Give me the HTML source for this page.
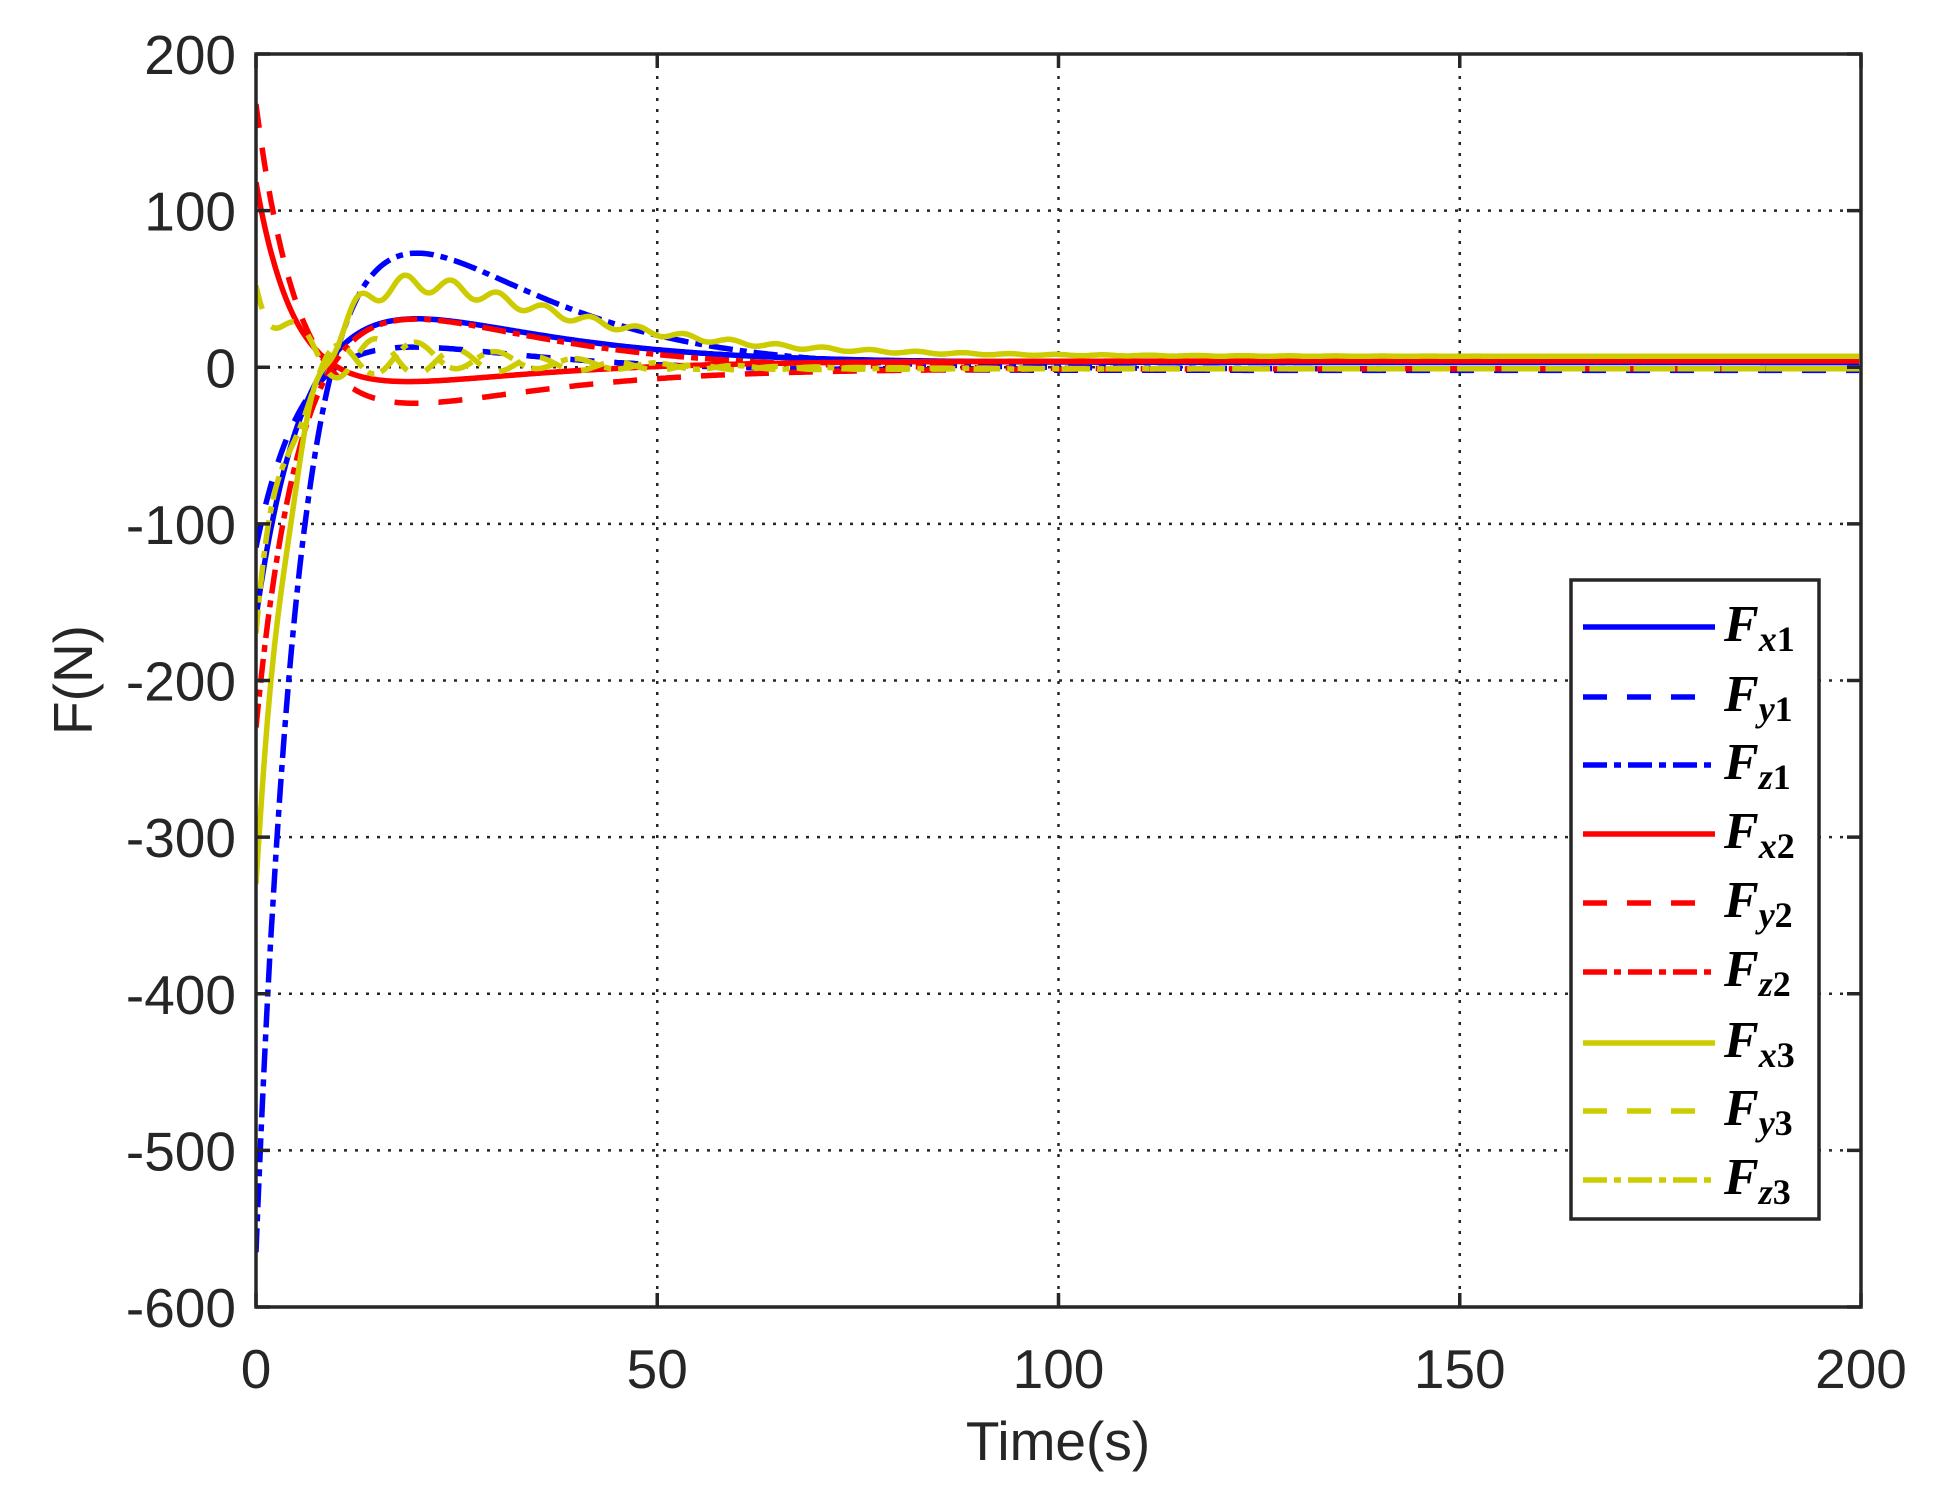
<!DOCTYPE html>
<html><head><meta charset="utf-8"><style>
html,body{margin:0;padding:0;background:#fff}
svg{display:block}
.tl{font-family:"Liberation Sans",sans-serif;font-size:55px;fill:#262626}
.lg{font-family:"Liberation Serif",serif;font-style:italic;font-weight:bold;fill:#000}
</style></head><body>
<svg id="s" width="1935" height="1500" viewBox="0 0 1935 1500" xmlns="http://www.w3.org/2000/svg">
<defs><clipPath id="c"><rect x="256" y="54" width="1605" height="1253"/></clipPath></defs>
<g id="grid" stroke="#262626" stroke-width="2.5" stroke-dasharray="3,8" fill="none"></g>
<g id="curves" clip-path="url(#c)" fill="none" stroke-width="5.5"></g>
<rect x="256" y="54" width="1605" height="1253" fill="none" stroke="#262626" stroke-width="3.5"/>
<g id="ticks" stroke="#262626" stroke-width="3.5"></g>
<g id="labels"></g>
<text class="tl" x="1058" y="1460" text-anchor="middle" font-size="60">Time(s)</text>
<text class="tl" transform="translate(92,680) rotate(-90)" text-anchor="middle" font-size="60">F(N)</text>
<rect x="1571" y="580" width="248" height="639" fill="#fff" stroke="#262626" stroke-width="3.5"/>
<g id="legend"></g>
</svg>
<script>
var NS="http://www.w3.org/2000/svg";
function el(p,t,a,txt){var e=document.createElementNS(NS,t);for(var k in a)e.setAttribute(k,a[k]);if(txt!==undefined)e.textContent=txt;document.getElementById(p).appendChild(e);return e;}
var L=256,R=1861,T=54,B=1307;
function X(t){return L+(t/200)*(R-L);}
function Y(v){return T+(200-v)/800*(B-T);}
for(var v=200;v>=-600;v-=100){var y=Y(v);
 if(v<200&&v>-600) el("grid","line",{x1:L,x2:R,y1:y,y2:y});
 el("ticks","line",{x1:L,x2:L+14,y1:y,y2:y});el("ticks","line",{x1:R,x2:R-14,y1:y,y2:y});
 el("labels","text",{"class":"tl",x:236,y:y+20,"text-anchor":"end"},String(v));}
for(var t=0;t<=200;t+=50){var x=X(t);
 if(t>0&&t<200) el("grid","line",{x1:x,x2:x,y1:T,y2:B});
 el("ticks","line",{x1:x,x2:x,y1:B,y2:B-14});el("ticks","line",{x1:x,x2:x,y1:T,y2:T+14});
 el("labels","text",{"class":"tl",x:x,y:1388,"text-anchor":"middle"},String(t));}
var BL="#0000ff",RD="#ff0000",YL="#cccc00";
var DASH="24,20",DD="24,7,7,7";
var C=[
 {n:"x1",c:BL,d:"",f0:-160,F:3,P:40,t2:13,t0:9},
 {n:"y1",c:BL,d:DASH,f0:-115,F:-2,P:19,t2:12,t0:9.5},
 {n:"z1",c:BL,d:DD,f0:-565,F:-1,P:95,t2:13,t0:9.5},
 {n:"x2",c:RD,d:"",f0:118,F:4,P:-12,t2:13,t0:9},
 {n:"y2",c:RD,d:DASH,f0:168,F:-1,P:-29,t2:13,t0:9.3},
 {n:"z2",c:RD,d:DD,f0:-230,F:-1,P:40,t2:13,t0:9.3},
 {n:"x3",c:YL,d:"",f0:-330,F:7,P:62,t2:14,t0:9,o:{A:11,T:5.8,tau:30,ph:0.3}},
 {n:"y3",c:YL,d:DASH,f0:52,F:-1,P:6,t2:12,t0:7,o:{A:26,T:10,tau:20,ph:-1.6}},
 {n:"z3",c:YL,d:DD,f0:-170,F:-1,P:9,t2:12,t0:9.5,o:{A:24,T:10,tau:20,ph:1.6}}
];
function mk(c){
 var b=(c.P-c.F)*Math.E/c.t2, a=c.f0-c.F;
 var r=-b*c.t0*Math.exp(-c.t0/c.t2)/a; var t1=(r>0&&r<1)?-c.t0/Math.log(r):3;
 return function(t){var v=c.F+a*Math.exp(-t/t1)+b*t*Math.exp(-t/c.t2);
  if(c.o){var o=c.o;v+=o.A*Math.exp(-t/o.tau)*Math.sin(2*Math.PI*t/o.T+o.ph)*(1-Math.exp(-t/4));}
  return v;};
}
C.forEach(function(c){var f=mk(c),d="";
 for(var t=0;t<=200;t+=(t<30?0.1:0.25)){d+=(d?"L":"M")+X(t).toFixed(1)+","+Y(f(t)).toFixed(1);}
 var a={d:d,stroke:c.c};if(c.d)a["stroke-dasharray"]=c.d;el("curves","path",a);});
var ys=[627,697,765,834,903,972,1043,1111,1180];
C.forEach(function(c,i){var y=ys[i];
 var a={x1:1583,x2:1715,y1:y,y2:y,stroke:c.c,"stroke-width":5.5};if(c.d)a["stroke-dasharray"]=c.d;el("legend","line",a);
 var tx=el("legend","text",{"class":"lg",x:1724,y:y+14,"font-size":52},"F");
 var s=document.createElementNS(NS,"tspan");s.setAttribute("font-size","36");s.setAttribute("dy","10");s.textContent=c.n[0];tx.appendChild(s);
 var s2=document.createElementNS(NS,"tspan");s2.setAttribute("font-size","36");s2.setAttribute("font-style","normal");s2.textContent=c.n[1];tx.appendChild(s2);
});
</script>
</body></html>
